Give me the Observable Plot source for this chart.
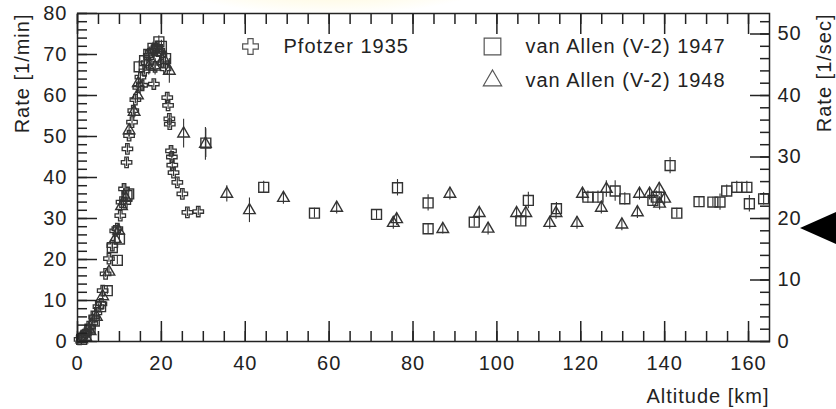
<!DOCTYPE html>
<html><head><meta charset="utf-8">
<script src="https://cdn.jsdelivr.net/npm/d3@7"></script>
<script src="https://cdn.jsdelivr.net/npm/@observablehq/plot@0.6"></script>
<style>
body{margin:0;background:#fff;}
#wrap{position:relative;width:836px;height:409px;overflow:hidden;}
#glow{position:absolute;left:150px;top:-70px;width:360px;height:85px;border-radius:50%;background:radial-gradient(ellipse at center, rgba(255,236,140,0.55), rgba(255,248,200,0) 70%);pointer-events:none;}
#pointer{position:absolute;left:800px;top:212px;width:0;height:0;border-top:16px solid transparent;border-bottom:16px solid transparent;border-right:36px solid #000;}
#wrap svg text{letter-spacing:1px;}
</style></head>
<body><div id="wrap"></div>
<script>
// Pfotzer 1935 (open crosses)
const pfotzerAlt  = [0.5,1,1.5,2,2.5,3,3.5,4,4.5,5,5.7,6,6.7,7.5,8.3,9,9.5,10.2,10.5,11.1,11.4,11.7,11.9,12.3,13,13.3,13.8,14.5,15,15.4,16,16.5,17,17.5,18,18.2,18.5,19,19.5,20,20.5,21,21.4,21.6,21.9,22,22.3,22.5,22.6,22.9,23.8,25,26.2,28.8];
const pfotzerRate = [0.5,1,1.5,2,2.5,3.5,4.5,6,7,8.5,9.2,12.4,16.5,20.2,23.4,27,27.5,30.7,34,37.2,33.9,43.7,47,50.2,53.5,56.3,59,62,64.5,62.5,66,68,69.8,70.5,71,62.8,67,72,71,70,68,66.5,59.5,57.6,54.3,53,46.5,45,43,41.2,38.8,36,31.5,31.7];
const pfotzerErr  = [0.5,0.5,0.5,0.5,0.5,0.5,0.6,0.6,0.6,0.7,0.7,0.8,0.8,0.9,0.9,1,1,1,1,1,1,1,1,1,1,1,1,1,1,1,1,1,1,1,1,1,1,1,1,1,1,1,1,1,1,1,1,1,1,1,1,1,1,1];
// van Allen (V-2) 1947 (open squares)
const va47Alt  = [1,2,3,4,5.5,7.1,8.3,9.5,10,11.8,12.2,14.7,16,17,18,19,19.4,20,21,30.6,44.4,56.5,71.3,76.3,83.6,83.6,94.6,105.7,107.5,114.2,121.7,124.1,128.2,130.5,137.2,138,141.3,142.9,148.2,151.5,153.2,154.8,157.2,159.6,160.2,163.6];
const va47Rate = [0.5,1.5,3,5,8.5,12.4,22.9,19.8,25,35.6,36,67,68.5,70,71.5,71,73.1,72,69,48.4,37.6,31.3,31,37.5,33.8,27.5,29.1,29.4,34.4,32.4,35.2,35.2,36.7,34.8,34.4,35.2,42.9,31.3,34.1,34,34,36.7,37.6,37.6,33.6,34.8];
const va47Err  = [0.5,0.5,0.6,0.7,0.8,1,1,1,1,1.2,1.2,1.5,1.5,1.5,1.5,1.5,1.5,1.5,1.5,3.5,1.5,1.2,1.2,2,2,1.2,1.2,1.2,2,1.5,1.5,1.5,2.5,1.5,1.5,1.5,2,1.2,1.2,1.2,2,1.5,1.5,1.5,2,1.5];
// van Allen (V-2) 1948 (open triangles)
const va48Alt  = [1,2,3,4.5,6,7.5,9,9.8,10.5,11.5,12.3,13.5,14.3,14.5,17,18.5,20.5,21.9,25.3,30.5,35.6,41,49.1,61.8,75.3,76.1,87.1,88.8,95.8,97.9,104.7,106.9,112.6,114.1,119.1,120.4,124.9,126.1,129.8,133.5,134,136.4,138.7,138.8,140];
const va48Rate = [0.5,1,2.5,6,11,17,25,27,33,35,51.5,56,60,63,67,67,69,66,50.7,48.2,36,32,35,32.6,28.9,29.8,27.4,36,31.3,27.5,31.3,31.3,28.9,31.3,28.9,36,32.6,37.2,28.5,31.5,36,36,37.2,33.6,34.8];
const va48Err  = [0.5,0.5,0.6,0.7,0.8,1,1,1.2,1.2,1.2,1.5,1.5,1.5,1.5,2,2,2,3,3.5,4,2,3,1.5,1.5,1.5,1.5,1.2,1.5,1.5,1.5,1.5,1.5,1.5,1.5,1.5,1.5,1.5,2,1.5,1.5,1.5,1.5,1.5,1.5,1.5];

const legendLabels = ["Pfotzer 1935", "van Allen (V-2) 1947", "van Allen (V-2) 1948"];
const xMajorTicks = [0,20,40,60,80,100,120,140,160];
const xMinorTicks = [0,5,10,15,20,25,30,35,40,45,50,55,60,65,70,75,80,85,90,95,100,105,110,115,120,125,130,135,140,145,150,155,160];
const yMajorTicks = [0,10,20,30,40,50,60,70,80];
const yMinorTicks = [0,2,4,6,8,10,12,14,16,18,20,22,24,26,28,30,32,34,36,38,40,42,44,46,48,50,52,54,56,58,60,62,64,66,68,70,72,74,76,78,80];
const secMajorTicks = [0,10,20,30,40,50];
const secMinorTicks = [0,2,4,6,8,10,12,14,16,18,20,22,24,26,28,30,32,34,36,38,40,42,44,46,48,50,52];
const minPerSec = 1.5; // right axis conversion

const mk = (A, R, E) => A.map((a, i) => ({alt: a, rate: R[i], lo: R[i] - E[i], hi: R[i] + E[i]}));
const pf = mk(pfotzerAlt, pfotzerRate, pfotzerErr);
const v47 = mk(va47Alt, va47Rate, va47Err);
const v48 = mk(va48Alt, va48Rate, va48Err);

const ink = "#222";
const sym = "#333";
const fs = 20;
const blank = () => "";

const plot = Plot.plot({
  width: 836, height: 409,
  marginTop: 13, marginBottom: 68, marginLeft: 77, marginRight: 67,
  style: {fontFamily: "'Liberation Sans', Arial, Helvetica, sans-serif", fontSize: "20px", color: ink, background: "transparent", overflow: "visible"},
  x: {domain: [0, 165], label: null},
  y: {domain: [0, 80], label: null},
  marks: [
    // error bars
    Plot.ruleX(pf, {x: "alt", y1: "lo", y2: "hi", stroke: sym, strokeWidth: 1.1}),
    Plot.ruleX(v47, {x: "alt", y1: "lo", y2: "hi", stroke: sym, strokeWidth: 1.1}),
    Plot.ruleX(v48, {x: "alt", y1: "lo", y2: "hi", stroke: sym, strokeWidth: 1.1}),
    // data symbols
    Plot.dot(pf, {x: "alt", y: "rate", symbol: "cross", r: 4.4, fill: "none", stroke: sym, strokeWidth: 1.3}),
    Plot.dot(v47, {x: "alt", y: "rate", symbol: "square", r: 5.6, fill: "none", stroke: sym, strokeWidth: 1.4}),
    Plot.dot(v48, {x: "alt", y: "rate", symbol: "triangle", r: 4.3, fill: "none", stroke: sym, strokeWidth: 1.4}),
    // axes: bottom
    Plot.axisX(xMajorTicks, {anchor: "bottom", tickSize: -20, tickPadding: 34, stroke: ink, strokeWidth: 1.5, fill: ink, fontSize: fs}),
    Plot.axisX(xMinorTicks, {anchor: "bottom", tickSize: -10, tickFormat: blank, stroke: ink, strokeWidth: 1.5}),
    // top
    Plot.axisX(xMajorTicks, {anchor: "top", tickSize: -20, tickFormat: blank, stroke: ink, strokeWidth: 1.5}),
    Plot.axisX(xMinorTicks, {anchor: "top", tickSize: -10, tickFormat: blank, stroke: ink, strokeWidth: 1.5}),
    // left
    Plot.axisY(yMajorTicks, {anchor: "left", tickSize: -20, tickPadding: 30, stroke: ink, strokeWidth: 1.5, fill: ink, fontSize: fs}),
    Plot.axisY(yMinorTicks, {anchor: "left", tickSize: -10, tickFormat: blank, stroke: ink, strokeWidth: 1.5}),
    // right (1/sec)
    Plot.axisY(secMajorTicks.map(v => v * minPerSec), {anchor: "right", tickSize: -20, tickPadding: 28, tickFormat: d => String(Math.round(d / minPerSec)), stroke: ink, strokeWidth: 1.5, fill: ink, fontSize: fs}),
    Plot.axisY(secMinorTicks.map(v => v * minPerSec), {anchor: "right", tickSize: -10, tickFormat: blank, stroke: ink, strokeWidth: 1.5}),
    Plot.frame({stroke: ink, strokeWidth: 1.5}),
    // axis titles
    Plot.text(["Rate [1/min]"], {frameAnchor: "top-left", rotate: -90, textAnchor: "end", lineAnchor: "middle", dx: -55, fontSize: fs, fill: ink}),
    Plot.text(["Rate [1/sec]"], {frameAnchor: "top-right", rotate: -90, textAnchor: "end", lineAnchor: "middle", dx: 55, fontSize: fs, fill: ink}),
    Plot.text(["Altitude [km]"], {frameAnchor: "bottom-right", textAnchor: "end", lineAnchor: "middle", dx: 0, dy: 55, fontSize: fs, fill: ink}),
    // legend
    Plot.dot([legendLabels[0]], {frameAnchor: "top-left", dx: 173, dy: 33, symbol: "cross", r: 6.6, fill: "none", stroke: "#555", strokeWidth: 1.2}),
    Plot.text([legendLabels[0]], {frameAnchor: "top-left", dx: 206, dy: 33, textAnchor: "start", lineAnchor: "middle", fontSize: fs, fill: ink}),
    Plot.dot([legendLabels[1]], {frameAnchor: "top-left", dx: 415, dy: 33, symbol: "square", r: 9.4, fill: "none", stroke: "#555", strokeWidth: 1.2}),
    Plot.text([legendLabels[1]], {frameAnchor: "top-left", dx: 448, dy: 33, textAnchor: "start", lineAnchor: "middle", fontSize: fs, fill: ink}),
    Plot.dot([legendLabels[2]], {frameAnchor: "top-left", dx: 415, dy: 67, symbol: "triangle", r: 6.8, fill: "none", stroke: "#555", strokeWidth: 1.2}),
    Plot.text([legendLabels[2]], {frameAnchor: "top-left", dx: 448, dy: 67, textAnchor: "start", lineAnchor: "middle", fontSize: fs, fill: ink})
  ]
});
const wrap = document.getElementById("wrap");
wrap.appendChild(plot);
const glow = document.createElement("div"); glow.id = "glow"; wrap.appendChild(glow);
const ptr = document.createElement("div"); ptr.id = "pointer"; wrap.appendChild(ptr);
</script>
</body></html>
